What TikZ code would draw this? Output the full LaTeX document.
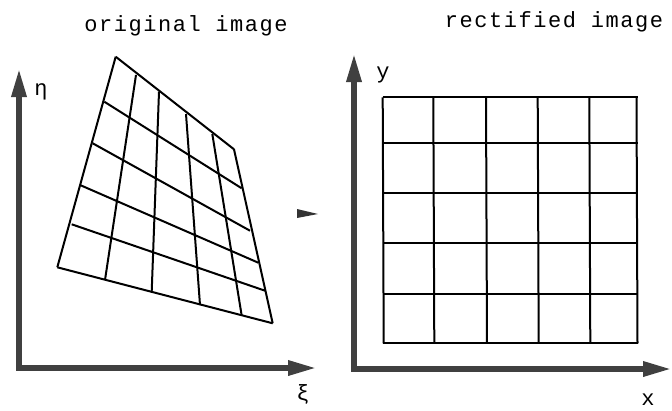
\documentclass[tikz,border=0pt]{standalone}
\usepackage{fontspec}
\usetikzlibrary{arrows.meta}
\newfontfamily\plotfont[LetterSpace=7]{Liberation Mono}
\newfontfamily\lblfont{Liberation Mono}
\tikzset{
  axis/.style={line width=6pt, draw=black!75, line join=miter,
    {Triangle[length=29pt,width=14pt]}-{Triangle[length=29pt,width=14pt]}},
  gridline/.style={line width=2pt, black},
  title/.style={font=\plotfont\fontsize{22}{22}\selectfont, inner sep=0pt, anchor=base},
  lbl/.style={font=\lblfont\fontsize{22}{22}\selectfont, inner sep=0pt, anchor=base}
}
\begin{document}
\begin{tikzpicture}[x=1pt,y=-1pt]
\useasboundingbox (0,0) rectangle (672,410);
% titles
\node[title] (t1) at (186,31) {original image};
\node[title] (t2) at (554,27) {rectified image};
% left axes
\coordinate (etatip) at (19,68);
\coordinate (o1) at (19,368);
\coordinate (xitip) at (317,368);
\draw[axis] (etatip) -- (o1) -- (xitip);
\node[lbl] (eta) at (41,95) {η};
\node[lbl] (xi) at (303,400) {ξ};
% distorted grid
\foreach \xa/\ya/\xb/\yb in {115.7/56.7/57.3/267.3, 136/75/105/280, 159/91.7/151.7/291.7,
    186/114/200/305, 212.3/134/241.7/315.7, 234/149.3/272.7/323.3}
  \draw[gridline] (\xa,\ya) -- (\xb,\yb);
\foreach \xa/\ya/\xb/\yb in {115.7/56.7/234/149.3, 104.3/101.7/241.7/188.3, 92.7/143.3/250/230.7,
    80/185/258.3/262.7, 71.7/224.3/265/290.7, 57.3/267.3/272.7/323.3}
  \draw[gridline] (\xa,\ya) -- (\xb,\yb);
% middle arrow
\fill[black!80] (297,209) -- (318,214) -- (297,218) -- cycle;
% right axes
\coordinate (ytip) at (354,53);
\coordinate (o2) at (354,369);
\coordinate (xtip) at (672,369);
\draw[axis] (ytip) -- (o2) -- (xtip);
\node[lbl] (ylab) at (383,78) {y};
\node[lbl] (xlab) at (648,405) {x};
% rectified grid
\foreach \x in {382.7,433.3,486,537.7,589.3,636.5}
  \draw[gridline] (\x,97.3) -- (\x+1,343.3);
\foreach \y in {97.3,142.7,192.7,243.3,294,343.3}
  \draw[gridline] (382.7,\y) -- (637.5,\y);
\end{tikzpicture}
\end{document}
